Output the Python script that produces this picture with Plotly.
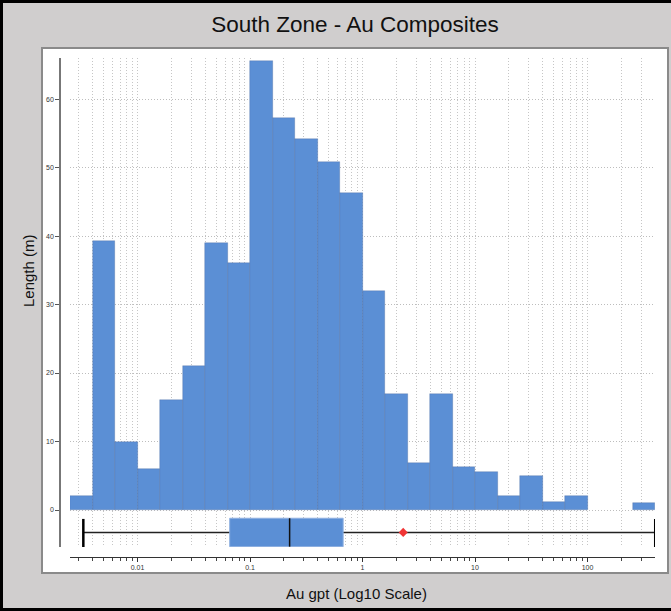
import numpy as np
import plotly.graph_objects as go

# ---------------- data ----------------
# histogram bin edges in log10(Au gpt)
bin_edges_log = [-2.6, -2.4, -2.2, -2.0, -1.8, -1.6, -1.4, -1.2, -1.0, -0.8, -0.6, -0.4, -0.2,
                 0.0, 0.2, 0.4, 0.6, 0.8, 1.0, 1.2, 1.4, 1.6, 1.8, 2.0, 2.2, 2.4, 2.6]
# composite length (m) per bin
lengths = [2.0, 39.3, 10.0, 6.0, 16.0, 21.0, 39.0, 36.0, 65.5, 57.3, 54.2, 50.8, 46.3,
           32.0, 17.0, 6.9, 17.0, 6.3, 5.6, 2.0, 5.0, 1.1, 2.0, 0.0, 0.0, 1.0]

# box-plot statistics (Au gpt)
stat_min = 0.0033
stat_q1 = 0.066
stat_median = 0.225
stat_q3 = 0.673
stat_max = 400.0
stat_mean = 2.3

major_tick_vals = [0.01, 0.1, 1, 10, 100]
major_tick_text = ["0.01", "0.1", "1", "10", "100"]
minor_tick_vals = [0.003, 0.004, 0.005, 0.006, 0.007, 0.008, 0.009,
                   0.02, 0.03, 0.04, 0.05, 0.06, 0.07, 0.08, 0.09,
                   0.2, 0.3, 0.4, 0.5, 0.6, 0.7, 0.8, 0.9,
                   2, 3, 4, 5, 6, 7, 8, 9,
                   20, 30, 40, 50, 60, 70, 80, 90,
                   200, 300]
y_tick_vals = [0, 10, 20, 30, 40, 50, 60]

# ---------------- styling constants ----------------
BAR_COLOR = "#5b8fd5"
BOX_TOP, BOX_BOT, BOX_MID = -1.2, -5.35, -3.27
CAP_TOP, CAP_BOT = -1.3, -5.4

edges = np.array(bin_edges_log)
centers = (edges[:-1] + edges[1:]) / 2
widths = edges[1:] - edges[:-1]
edge_widths = [0.6 if v > 0 else 0 for v in lengths]

fig = go.Figure()

fig.add_trace(go.Bar(
    x=centers, y=lengths, width=widths,
    marker=dict(color=BAR_COLOR, line=dict(color="rgba(60,90,140,0.45)", width=edge_widths)),
    hoverinfo="skip", showlegend=False,
))

lq1, lmed, lq3 = np.log10(stat_q1), np.log10(stat_median), np.log10(stat_q3)
lmin, lmax, lmean = np.log10(stat_min), np.log10(stat_max), np.log10(stat_mean)

# whisker line
fig.add_trace(go.Scatter(x=[lmin, lmax], y=[BOX_MID, BOX_MID], mode="lines",
                         line=dict(color="#222222", width=1.5), showlegend=False, hoverinfo="skip"))
# box
fig.add_trace(go.Scatter(x=[lq1, lq3, lq3, lq1, lq1], y=[BOX_TOP, BOX_TOP, BOX_BOT, BOX_BOT, BOX_TOP],
                         mode="lines", fill="toself", fillcolor=BAR_COLOR,
                         line=dict(color="#8fb0e0", width=1), showlegend=False, hoverinfo="skip"))
# median
fig.add_trace(go.Scatter(x=[lmed, lmed], y=[BOX_TOP, BOX_BOT], mode="lines",
                         line=dict(color="#111111", width=1.5), showlegend=False, hoverinfo="skip"))
# caps
for v in (lmin, lmax):
    fig.add_trace(go.Scatter(x=[v, v], y=[CAP_TOP, CAP_BOT], mode="lines",
                             line=dict(color="#000000", width=2.5), showlegend=False, hoverinfo="skip"))
# mean
fig.add_trace(go.Scatter(x=[lmean], y=[BOX_MID], mode="markers",
                         marker=dict(symbol="diamond", size=7, color="#f03535"),
                         showlegend=False, hoverinfo="skip"))

W, H = 671, 611
ML, MR, MT, MB = 42, 3, 48, 38
PW, PH = W - ML - MR, H - MT - MB

def px_x(p):
    return (p - ML) / PW

def px_y(p):
    return (H - MB - p) / PH

grid_color = "#c6c6c6"
grid_dash = "1px,2px"
fig.update_layout(
    width=W, height=H,
    margin=dict(l=ML, r=MR, t=MT, b=MB),
    paper_bgcolor="#d0cece",
    plot_bgcolor="white",
    font=dict(family="Liberation Sans, Arial, sans-serif", color="#222222"),
    bargap=0,
    title=dict(text="South Zone - Au Composites", x=0.5, xref="paper", xanchor="center",
               y=1 - 24 / H, yanchor="middle", yref="container",
               font=dict(size=22.5, color="#111111")),
    xaxis=dict(
        domain=[px_x(70), px_x(655)],
        range=[-2.6, 2.6],
        anchor="free", position=px_y(557),
        tickmode="array",
        tickvals=np.log10(major_tick_vals), ticktext=major_tick_text,
        ticks="outside", ticklen=4, tickcolor="#333333", tickwidth=1,
        tickfont=dict(size=7, color="#333333"),
        showline=True, linecolor="#333333", linewidth=1,
        showgrid=True, gridcolor=grid_color, griddash=grid_dash, gridwidth=1,
        zeroline=False,
        minor=dict(tickmode="array", tickvals=np.log10(minor_tick_vals).tolist(),
                   ticks="outside", ticklen=3, tickcolor="#444444",
                   showgrid=True, gridcolor=grid_color, griddash=grid_dash, gridwidth=1),
    ),
    yaxis=dict(
        domain=[px_y(547), px_y(58)],
        range=[-5.4, 66.0],
        anchor="free", position=px_x(60),
        tickmode="array", tickvals=y_tick_vals,
        ticks="outside", ticklen=4, tickcolor="#555555", tickwidth=1,
        tickfont=dict(size=7, color="#333333"),
        showline=True, linecolor="#777777", linewidth=1.5,
        showgrid=True, gridcolor="#bdbdbd", griddash=grid_dash, gridwidth=1,
        zeroline=False,
    ),
    annotations=[
        dict(text="Length (m)", x=px_x(28), y=px_y(271), xref="paper", yref="paper",
             textangle=-90, showarrow=False, font=dict(size=15, color="#111111"),
             xanchor="center", yanchor="middle"),
        dict(text="Au gpt (Log10 Scale)", x=px_x(356), y=px_y(593), xref="paper", yref="paper",
             showarrow=False, font=dict(size=15, color="#111111"),
             xanchor="center", yanchor="middle"),
    ],
    shapes=[
        # white panel
        dict(type="rect", xref="paper", yref="paper", x0=px_x(42), x1=px_x(668),
             y0=px_y(573), y1=px_y(48), fillcolor="white",
             line=dict(color="#8a8a8a", width=2), layer="below"),
        # outer black frame (left, top, bottom)
        dict(type="line", xref="paper", yref="paper", x0=px_x(1.5), x1=px_x(1.5),
             y0=px_y(0), y1=px_y(611), line=dict(color="black", width=3)),
        dict(type="line", xref="paper", yref="paper", x0=px_x(0), x1=px_x(671),
             y0=px_y(1.5), y1=px_y(1.5), line=dict(color="black", width=3)),
        dict(type="line", xref="paper", yref="paper", x0=px_x(0), x1=px_x(671),
             y0=px_y(609.5), y1=px_y(609.5), line=dict(color="black", width=3)),
    ],
)

fig.write_html("out.html", config={"displayModeBar": False},
               post_script="document.body.style.margin='0';document.body.style.overflow='hidden';")
